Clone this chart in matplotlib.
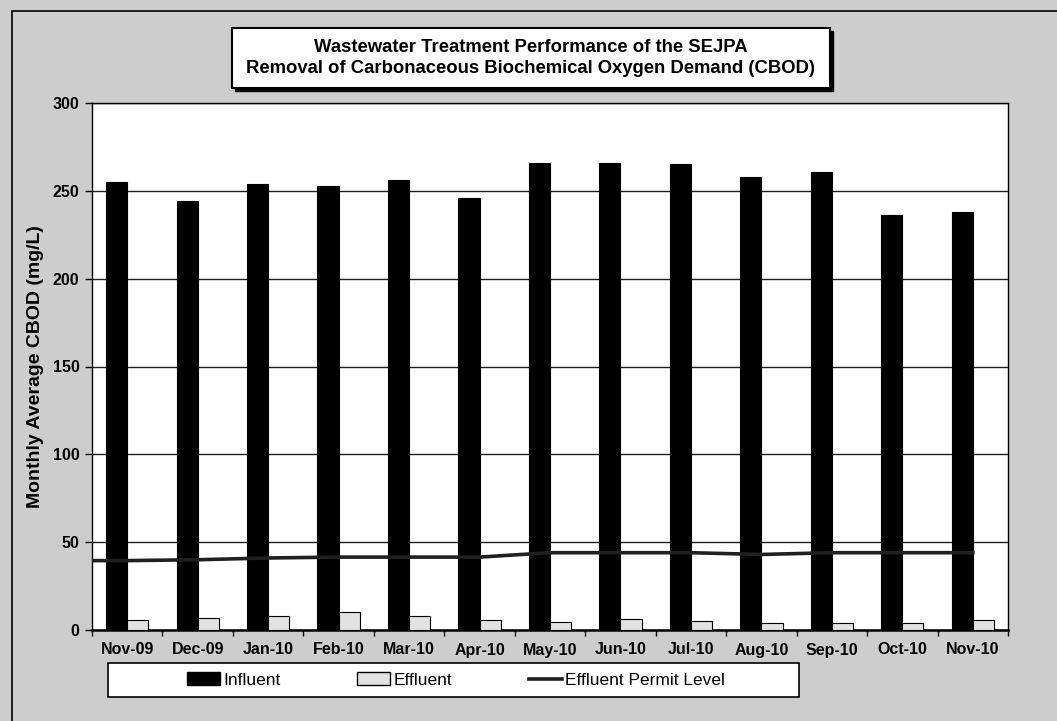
import numpy as np
import matplotlib.pyplot as plt
from matplotlib.patches import Rectangle
from matplotlib.lines import Line2D

plt.rcParams['font.family'] = ['Liberation Sans', 'DejaVu Sans']

# ── data ──────────────────────────────────────────────────────────────────────
months   = ['Nov-09', 'Dec-09', 'Jan-10', 'Feb-10', 'Mar-10', 'Apr-10', 'May-10',
            'Jun-10', 'Jul-10', 'Aug-10', 'Sep-10', 'Oct-10', 'Nov-10']
influent = [255, 244, 254, 253, 256, 246, 266, 266, 265, 258, 261, 236, 238]
effluent = [5.5, 7, 8, 10, 8, 5.5, 4.5, 6, 5, 4, 4, 4, 5.5]
permit   = [39.5, 40, 41, 41.5, 41.5, 41.5, 44, 44, 44, 43, 44, 44, 44]

BG = '#cdcdcd'
W, H = 1057, 721   # canvas in pixels, used to place boxes


def px_box(x0, y0, w, h):
    """pixel box (top-left origin) -> figure-fraction (left, bottom, w, h)"""
    return x0 / W, 1 - (y0 + h) / H, w / W, h / H


fig = plt.figure(figsize=(W / 100, H / 100), dpi=100, facecolor=BG)
ax = fig.add_axes(px_box(92, 103, 916, 527))
ax.set_facecolor('white')

x = np.arange(len(months))
bw = 0.30
ax.bar(x - bw / 2, influent, bw, color='black', edgecolor='black', lw=0.8,
       zorder=3)
ax.bar(x + bw / 2, effluent, bw, color='#e2e2e2', edgecolor='black', lw=0.8,
       zorder=3)
# Excel drew the permit line starting at the left edge of the plot area
ax.plot(np.r_[-0.5, x], np.r_[permit[0], permit], color='#202020', lw=2.6,
        zorder=4)

ax.set_xlim(-0.5, len(months) - 0.5)
ax.set_ylim(0, 300)
ax.set_yticks(range(0, 301, 50))
ax.yaxis.grid(True, color='#202020', lw=1.0, zorder=1)
ax.set_axisbelow(True)

ax.set_xticks(x)
ax.set_xticklabels(months, fontsize=11.5, fontweight='bold')
ax.set_xticks(np.arange(-0.5, len(months)), minor=True)
ax.tick_params(axis='x', which='major', length=0, pad=9)
ax.tick_params(axis='x', which='minor', length=4, width=1, direction='out')
ax.tick_params(axis='y', length=5, width=1, direction='out', pad=4)
for lab in ax.get_yticklabels():
    lab.set_fontsize(11.5)
    lab.set_fontweight('bold')
for s in ax.spines.values():
    s.set_linewidth(1.0)
    s.set_color('black')
ax.spines['bottom'].set_linewidth(1.8)

ax.set_ylabel('Monthly Average CBOD (mg/L)', fontsize=14, fontweight='bold',
              labelpad=6)

# ── title box with shadow ─────────────────────────────────────────────────────
tx0, ty0, tw, th = 232, 28, 598, 60
l, b, w, h = px_box(tx0 + 3, ty0 + 3, tw, th)
fig.add_artist(Rectangle((l, b), w, h, transform=fig.transFigure,
                         fc='black', ec='black'))
l, b, w, h = px_box(tx0, ty0, tw, th)
fig.add_artist(Rectangle((l, b), w, h, transform=fig.transFigure,
                         fc='white', ec='black', lw=1.5))
fig.text((tx0 + tw / 2) / W, 1 - (ty0 + th / 2) / H,
         'Wastewater Treatment Performance of the SEJPA\n'
         'Removal of Carbonaceous Biochemical Oxygen Demand (CBOD)',
         ha='center', va='center', fontsize=13.3, fontweight='bold',
         linespacing=1.3)

# ── outer frame ───────────────────────────────────────────────────────────────
fig.add_artist(Rectangle((12 / W, -0.1), 1.2, 1 - 11 / H + 0.1,
                         transform=fig.transFigure, fill=False, ec='black',
                         lw=1.2))

# ── legend (frame drawn by hand so it can be wider than its entries) ──────────
l, b, w, h = px_box(108, 663, 691, 34)
fig.add_artist(Rectangle((l, b), w, h, transform=fig.transFigure,
                         fc='white', ec='black', lw=1.2))
handles = [Rectangle((0, 0), 1, 1, fc='black', ec='black'),
           Rectangle((0, 0), 1, 1, fc='#e2e2e2', ec='black'),
           Line2D([], [], color='#202020', lw=2.6)]
labels = ['Influent', 'Effluent', 'Effluent Permit Level']
fig.legend(handles, labels, ncol=3, loc='center',
           bbox_to_anchor=(456 / W, 1 - 680 / H),
           fontsize=12.5, frameon=False, handlelength=1.9, handletextpad=0.2,
           columnspacing=4.4, borderpad=0.2)

fig.savefig('out.png', dpi=100, facecolor=BG)
